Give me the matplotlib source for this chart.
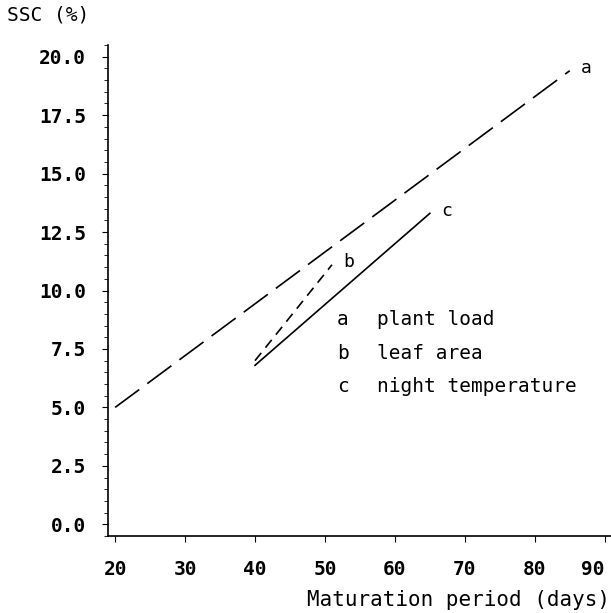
import matplotlib
matplotlib.use("Agg")
import matplotlib.pyplot as plt
from matplotlib.ticker import MultipleLocator

# data
days_a = [20, 85]
ssc_a = [5.0, 19.4]
days_b = [40, 51]
ssc_b = [7.0, 11.1]
days_c = [40, 65]
ssc_c = [6.8, 13.3]
labels = ["a", "b", "c"]
legend_text = ["plant load", "leaf area", "night temperature"]
x_ticks = [20, 30, 40, 50, 60, 70, 80, 90]

plt.rcParams['font.family'] = 'DejaVu Sans Mono'

fig = plt.figure(figsize=(6.11, 6.13), dpi=100)
ax = fig.add_axes([0.177, 0.1256, 0.823, 0.801])

ax.plot(days_a, ssc_a, color='black', lw=1.2, linestyle=(0, (18, 6)))
ax.plot(days_b, ssc_b, color='black', lw=1.2, linestyle=(0, (6, 4)))
ax.plot(days_c, ssc_c, color='black', lw=1.2, linestyle='-')

for lab, xs, ys in zip(labels, [days_a, days_b, days_c], [ssc_a, ssc_b, ssc_c]):
    ax.annotate(lab, (xs[-1], ys[-1]), xytext=(8, 2), textcoords='offset points',
                fontsize=13, va='center', ha='left')

for i, (lab, txt) in enumerate(zip(labels, legend_text)):
    ax.text(0.455, 0.44 - i * 0.068, lab, transform=ax.transAxes, fontsize=14, va='center')
    ax.text(0.535, 0.44 - i * 0.068, txt, transform=ax.transAxes, fontsize=14, va='center')

ax.set_xlim(19, 90.9)
ax.set_ylim(-0.5, 20.5)
ax.set_xticks(x_ticks)
ax.yaxis.set_major_locator(MultipleLocator(2.5))
ax.yaxis.set_minor_locator(MultipleLocator(0.5))
ax.yaxis.set_major_formatter(matplotlib.ticker.FormatStrFormatter('%.1f'))

for s in ['top', 'right']:
    ax.spines[s].set_visible(False)
ax.spines['left'].set_linewidth(1.2)
ax.spines['bottom'].set_linewidth(1.2)

ax.tick_params(axis='x', direction='out', length=4, pad=13, labelsize=14)
ax.tick_params(axis='y', which='major', direction='out', length=4, pad=12, labelsize=14)
ax.tick_params(axis='y', which='minor', direction='out', length=3)
for t in ax.get_xticklabels() + ax.get_yticklabels():
    t.set_fontweight('bold')
# last x label sits against the right edge in the original
ax.get_xticklabels()[-1].set_ha('right')

fig.text(0.012, 0.975, "SSC (%)", fontsize=14, va='center', ha='left')
fig.text(0.999, 0.021, "Maturation period (days)", fontsize=15, va='center', ha='right')

fig.savefig("out.png", dpi=100)
